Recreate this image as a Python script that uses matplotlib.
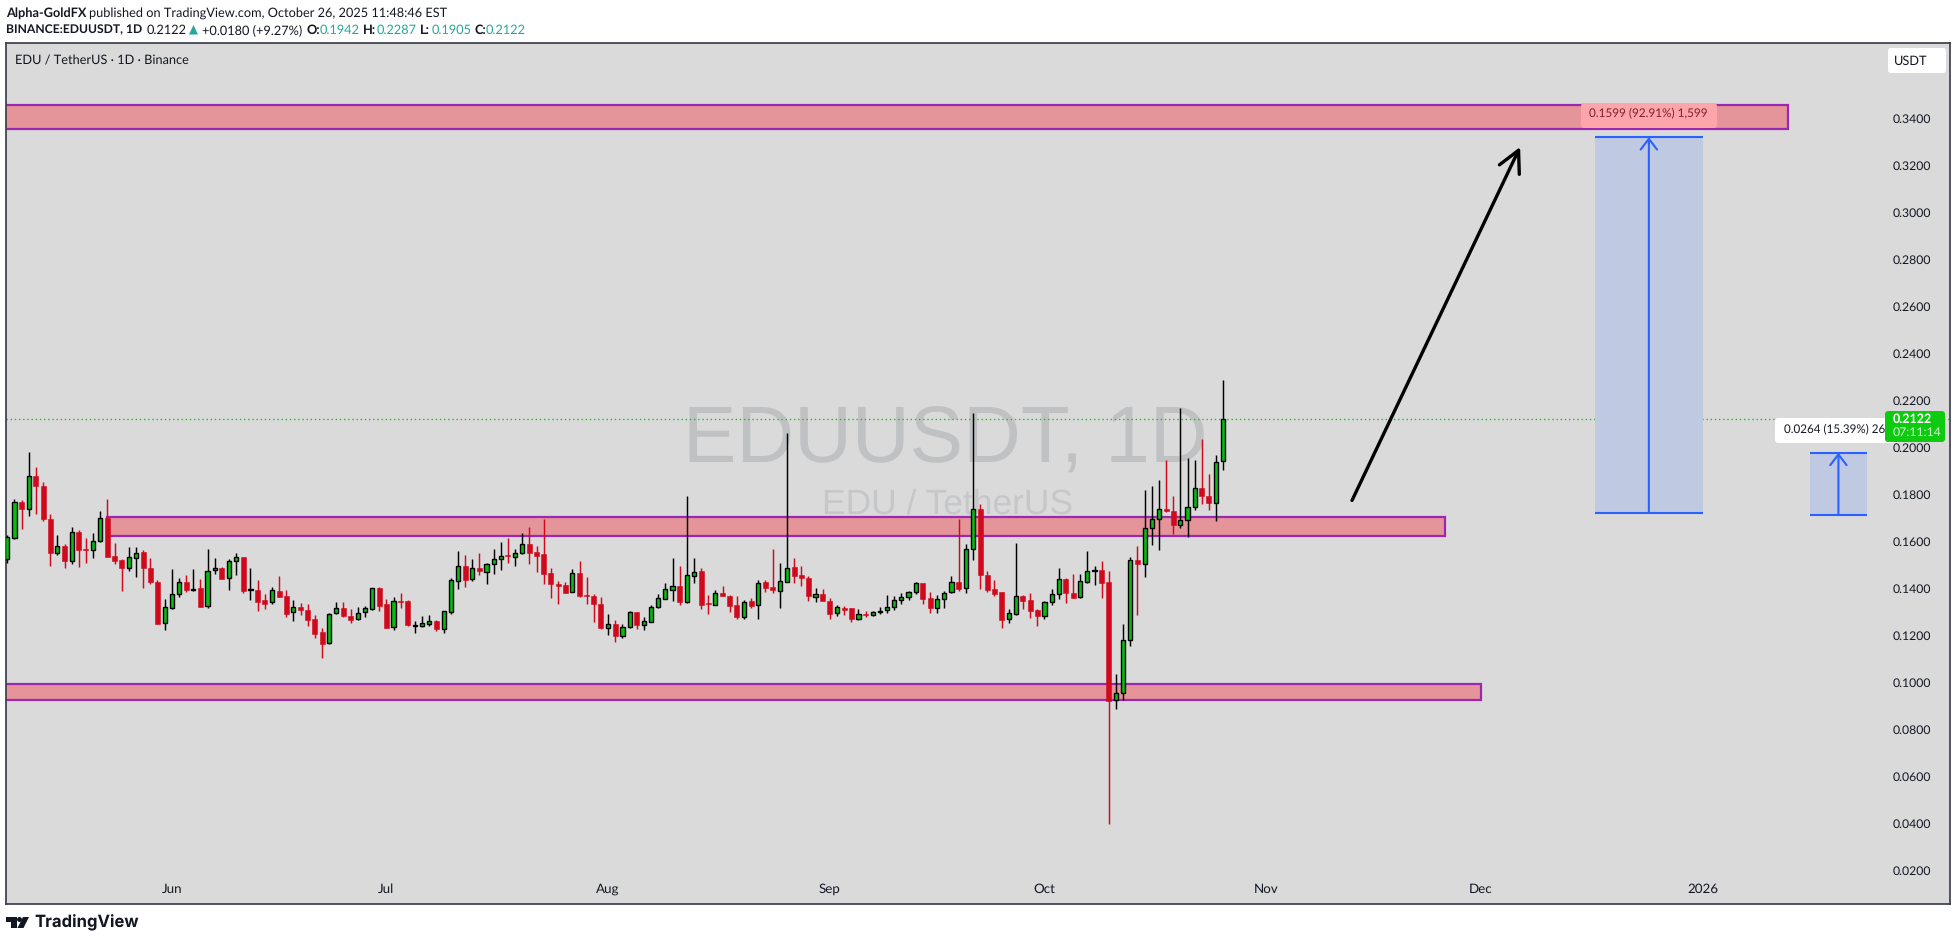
import numpy as np
import pandas as pd
import matplotlib
matplotlib.use("Agg")
import matplotlib.pyplot as plt
import matplotlib.dates as mdates
from matplotlib.patches import Rectangle, FancyBboxPatch, Polygon, Circle
from matplotlib.transforms import IdentityTransform

W, H = 1957, 941
plt.rcParams['font.family'] = ['Lato', 'DejaVu Sans']
plt.rcParams['text.hinting'] = 'no_hinting'

dates = pd.date_range("2025-05-09", periods=171)

opens = [.1523,.1615,.1766,.1736,.1878,.1835,.1695,.1551,.1580,.1515,
         .1639,.1567,.1561,.1600,.1699,.1537,.1520,.1485,.1527,.1554,
         .1486,.1427,.1251,.1317,.1374,.1425,.1393,.1401,.1323,.1476,
         .1486,.1442,.1515,.1533,.1394,.1391,.1349,.1340,.1387,.1366,
         .1298,.1320,.1306,.1268,.1212,.1166,.1293,.1315,.1281,.1268,
         .1300,.1313,.1401,.1332,.1234,.1344,.1344,.1241,.1241,.1249,
         .1261,.1228,.1300,.1432,.1495,.1441,.1485,.1471,.1502,.1523,
         .1542,.1532,.1549,.1587,.1554,.1544,.1464,.1418,.1414,.1386,
         .1464,.1371,.1367,.1333,.1232,.1247,.1198,.1234,.1299,.1245,
         .1258,.1322,.1356,.1394,.1410,.1343,.1454,.1473,.1337,.1330,
         .1380,.1367,.1329,.1279,.1346,.1330,.1427,.1404,.1390,.1428,
         .1491,.1456,.1444,.1364,.1376,.1346,.1293,.1316,.1316,.1268,
         .1291,.1285,.1298,.1306,.1319,.1349,.1361,.1383,.1421,.1358,
         .1317,.1353,.1383,.1425,.1400,.1566,.1736,.1457,.1397,.1384,
         .1268,.1292,.1367,.1350,.1308,.1284,.1340,.1377,.1440,.1379,
         .1365,.1428,.1475,.1478,.1427,.0923,.0953,.1179,.1521,.1505,
         .1655,.1694,.1738,.1729,.1671,.1689,.1745,.1827,.1793,.1765,.1942]
highs = [.1627,.1778,.1776,.1980,.1916,.1852,.1716,.1627,.1588,.1661,
         .1648,.1614,.1635,.1729,.1780,.1593,.1525,.1576,.1576,.1563,
         .1529,.1435,.1354,.1482,.1444,.1456,.1482,.1439,.1567,.1529,
         .1489,.1523,.1550,.1533,.1486,.1435,.1377,.1404,.1452,.1393,
         .1350,.1337,.1333,.1285,.1231,.1295,.1342,.1342,.1310,.1320,
         .1325,.1400,.1404,.1354,.1363,.1380,.1349,.1261,.1282,.1286,
         .1264,.1302,.1444,.1559,.1542,.1525,.1550,.1506,.1567,.1597,
         .1614,.1566,.1635,.1661,.1580,.1695,.1485,.1431,.1425,.1482,
         .1516,.1448,.1376,.1363,.1290,.1264,.1248,.1302,.1300,.1278,
         .1327,.1376,.1421,.1529,.1495,.1793,.1529,.1485,.1370,.1393,
         .1410,.1371,.1367,.1350,.1359,.1434,.1435,.1567,.1506,.2059,
         .1529,.1495,.1452,.1401,.1397,.1357,.1327,.1323,.1317,.1312,
         .1303,.1302,.1320,.1371,.1366,.1380,.1388,.1425,.1422,.1384,
         .1371,.1388,.1452,.1695,.1587,.2146,.1759,.1474,.1435,.1384,
         .1312,.1593,.1372,.1380,.1312,.1346,.1397,.1486,.1444,.1461,
         .1461,.1559,.1495,.1516,.1474,.1035,.1248,.1533,.1580,.1818,
         .1835,.1861,.1946,.1793,.2167,.1955,.1946,.2035,.1886,.1967,.2287]
lows = [.1509,.1611,.1654,.1709,.1717,.1688,.1496,.1543,.1488,.1505,
        .1492,.1508,.1530,.1597,.1534,.1505,.1390,.1475,.1449,.1403,
        .1420,.1249,.1224,.1313,.1364,.1386,.1390,.1322,.1317,.1462,
        .1441,.1394,.1458,.1381,.1351,.1305,.1313,.1335,.1364,.1279,
        .1262,.1288,.1241,.1188,.1105,.1164,.1292,.1279,.1254,.1266,
        .1279,.1308,.1305,.1232,.1224,.1317,.1241,.1211,.1237,.1241,
        .1220,.1211,.1292,.1398,.1407,.1432,.1458,.1420,.1462,.1479,
        .1508,.1496,.1547,.1503,.1469,.1420,.1360,.1335,.1380,.1384,
        .1361,.1335,.1258,.1228,.1203,.1173,.1190,.1232,.1228,.1224,
        .1258,.1316,.1354,.1347,.1330,.1339,.1424,.1313,.1292,.1330,
        .1368,.1300,.1271,.1271,.1317,.1271,.1386,.1381,.1317,.1427,
        .1424,.1411,.1346,.1343,.1346,.1271,.1283,.1288,.1258,.1266,
        .1279,.1283,.1292,.1296,.1309,.1335,.1349,.1377,.1335,.1296,
        .1296,.1317,.1378,.1390,.1381,.1522,.1397,.1386,.1367,.1233,
        .1254,.1286,.1312,.1275,.1241,.1269,.1330,.1355,.1339,.1360,
        .1360,.1423,.1416,.1360,.0399,.0888,.0926,.1156,.1286,.1450,
        .1586,.1564,.1725,.1633,.1658,.1620,.1735,.1760,.1735,.1688,.1905]
closes = [.1617,.1766,.1739,.1876,.1837,.1696,.1551,.1578,.1517,.1638,
          .1564,.1564,.1600,.1698,.1534,.1517,.1488,.1532,.1549,.1488,
          .1428,.1249,.1319,.1374,.1425,.1393,.1395,.1322,.1472,.1485,
          .1441,.1515,.1532,.1390,.1397,.1343,.1335,.1391,.1364,.1292,
          .1319,.1309,.1266,.1207,.1164,.1289,.1315,.1283,.1266,.1293,
          .1315,.1400,.1326,.1232,.1344,.1342,.1245,.1244,.1251,.1259,
          .1228,.1302,.1434,.1493,.1437,.1485,.1475,.1502,.1523,.1536,
          .1539,.1549,.1587,.1551,.1539,.1462,.1420,.1411,.1381,.1464,
          .1369,.1369,.1335,.1232,.1247,.1198,.1234,.1298,.1245,.1259,
          .1319,.1357,.1395,.1408,.1343,.1455,.1468,.1330,.1335,.1381,
          .1368,.1325,.1278,.1340,.1326,.1424,.1403,.1394,.1429,.1485,
          .1454,.1445,.1369,.1374,.1347,.1292,.1319,.1309,.1271,.1289,
          .1288,.1298,.1303,.1319,.1349,.1361,.1383,.1421,.1354,.1317,
          .1353,.1378,.1425,.1398,.1566,.1736,.1458,.1394,.1377,.1267,
          .1294,.1366,.1347,.1305,.1282,.1340,.1374,.1438,.1382,.1360,
          .1430,.1472,.1478,.1423,.0922,.0953,.1179,.1519,.1505,.1655,
          .1694,.1736,.1729,.1671,.1689,.1745,.1825,.1794,.1765,.1936,.2122]

zones_low = [.3354, .1623, .0925]
zones_high = [.3458, .1705, .0993]
zones_start = ["2025-05-01", "2025-05-23", "2025-05-01"]
zones_end = ["2026-01-13", "2025-11-26", "2025-12-01"]

measure_start = ["2025-12-17", "2026-01-16"]
measure_end = ["2026-01-01", "2026-01-24"]
measure_low = [.1721, .1713]
measure_high = [.3320, .1977]

last_price = .2122
y_ticks = [.02, .04, .06, .08, .10, .12, .14, .16, .18, .20, .22, .24, .26, .28, .30, .32, .34]
month_ticks = ["2025-06-01", "2025-07-01", "2025-08-01", "2025-09-01", "2025-10-01", "2025-11-01", "2025-12-01", "2026-01-01"]
month_labels = ["Jun", "Jul", "Aug", "Sep", "Oct", "Nov", "Dec", "2026"]

BG = "#dadada"
RED = "#d0091c"
GREEN = "#0bbb14"
BLUE = "#2962ff"
PURPLE = "#9c27b0"
TEXT = "#131722"
TEAL = "#26a69a"

fig = plt.figure(figsize=(W / 100, H / 100), dpi=100, facecolor="white")
ax = fig.add_axes([6 / W, 1 - 904 / H, 1944 / W, 861 / H], facecolor=BG)

x = mdates.date2num(dates)
opens, highs, lows, closes = map(np.array, (opens, highs, lows, closes))
up = closes >= opens

# watermark
ax.text(x[0] + 131.2, .1934, "EDUUSDT, 1D", color="#c0c1c3", fontsize=57.6, ha="center", va="baseline",
        family="Liberation Sans", zorder=1)
ax.text(x[0] + 131.5, .1716, "EDU / TetherUS", color="#c6c7c9", fontsize=25.5, ha="center", va="baseline",
        family="Liberation Sans", zorder=1)

# zones
for lo, hi, s, e in zip(zones_low, zones_high, zones_start, zones_end):
    s, e = mdates.datestr2num(s), mdates.datestr2num(e)
    ax.add_patch(Rectangle((s, lo), e - s, hi - lo, facecolor="#e59499", edgecolor=PURPLE, lw=1.6, zorder=2))

ax.axhline(last_price, color="#1cc01c", lw=1, ls=(0, (1, 2)), zorder=2.5)

# candles
ax.vlines(x[up], lows[up], highs[up], color="black", lw=1.05, zorder=3)
ax.vlines(x[~up], lows[~up], highs[~up], color=RED, lw=1.05, zorder=3)
ax.bar(x[up], closes[up] - opens[up], bottom=opens[up], width=.58, color=GREEN, edgecolor="black", lw=1.0, zorder=3.2)
ax.bar(x[~up], opens[~up] - closes[~up], bottom=closes[~up], width=.7, color=RED, edgecolor=RED, lw=.4, zorder=3.2)

# measure tools
for s, e, lo, hi in zip(measure_start, measure_end, measure_low, measure_high):
    s, e = mdates.datestr2num(s), mdates.datestr2num(e)
    mid = (s + e) / 2
    ax.add_patch(Rectangle((s, lo), e - s, hi - lo, facecolor="#bfc9e1", edgecolor="none", zorder=3.5))
    ax.hlines([lo, hi], s, e, color=BLUE, lw=1.5, zorder=3.6)
    ax.annotate("", xy=(mid, hi), xytext=(mid, lo), zorder=3.6,
                arrowprops=dict(arrowstyle="->,head_length=0.55,head_width=0.42", color=BLUE, lw=1.5,
                                shrinkA=0, shrinkB=0, mutation_scale=14))

# big arrow
ax.annotate("", xy=(mdates.datestr2num("2025-12-06 12:00"), .3278), xytext=(mdates.datestr2num("2025-11-13"), .1774), zorder=4,
            arrowprops=dict(arrowstyle="->,head_length=0.7,head_width=0.36", color="black", lw=2.4,
                            shrinkA=0, shrinkB=0, mutation_scale=22))

ax.set_xlim(x[0] - .18, x[0] + 271.6)
ax.set_ylim(.00566, .37204)

ax.yaxis.tick_right()
ax.set_yticks(y_ticks, ["%.4f" % v for v in y_ticks])
ax.tick_params(axis="y", direction="in", length=0, pad=-41.5, labelsize=8.8, labelcolor=TEXT)
ax.set_xticks(mdates.datestr2num(month_ticks), month_labels)
ax.tick_params(axis="x", direction="in", length=0, pad=-15, labelsize=9.6, labelcolor=TEXT)
for s in ax.spines.values():
    s.set_color("#363a45")
    s.set_linewidth(1.2)


def label(px, py, txt, **kw):
    kw.setdefault("fontsize", 9.15)
    kw.setdefault("color", TEXT)
    kw.setdefault("va", "center")
    return fig.text(px / W, 1 - py / H, txt, **kw)


def box(x0, y0, x1, y1, color, z=5):
    fig.add_artist(FancyBboxPatch((x0 + 3, H - y1 + 3), x1 - x0 - 6, y1 - y0 - 6, boxstyle="round,pad=3",
                                  transform=IdentityTransform(), facecolor=color, edgecolor="none", zorder=z))


# header lines
label(6, 13, "Alpha-GoldFX", fontweight="bold")
label(89, 13, "published on TradingView.com, October 26, 2025 11:48:46 EST")
label(6, 30, "BINANCE:EDUUSDT, 1D", fontweight="bold", fontsize=8.7)
label(147, 30, "0.2122")
fig.add_artist(Polygon([(189, H - 34.5), (198, H - 34.5), (193.5, H - 25)], transform=IdentityTransform(),
                       facecolor=TEAL, edgecolor="none"))
label(202, 30, "+0.0180 (+9.27%)")
for px, name, vx, val in [(307, "O:", 320, "0.1942"), (363, "H:", 377, "0.2287"),
                          (420, "L:", 432, "0.1905"), (475, "C:", 486, "0.2122")]:
    label(px, 30, name, fontweight="bold")
    label(vx, 30, val, color=TEAL)
label(15, 61, "EDU / TetherUS · 1D · Binance")

# boxes on the chart
box(1888, 48, 1946, 73, "white")
label(1911, 61.5, "USDT", ha="center", zorder=6)
box(1581, 103, 1717, 128, "#fca5aa")
label(1589, 114, "0.1599 (92.91%) 1,599", color="#80202f", fontsize=8.5, zorder=6)
box(1775, 418, 1900, 443, "white")
label(1784, 429.5, "0.0264 (15.39%) 26", fontsize=8.4, zorder=6)
box(1885, 411, 1945, 442, "#0fcb10", z=7)
label(1893, 419, "0.2122", color="white", fontweight="bold", fontsize=9.0, zorder=8)
label(1893, 433, "07:11:14", color="#d2f5d2", fontsize=8.8, zorder=8)

# logo
dark = "#131722"
fig.add_artist(Polygon([(6, H - 917), (17, H - 917), (17, H - 928), (11, H - 928), (11, H - 922), (6, H - 922)],
                       transform=IdentityTransform(), facecolor=dark, edgecolor="none"))
fig.add_artist(Circle((19.5, H - 919.5), 2.5, transform=IdentityTransform(), facecolor=dark, edgecolor="none"))
fig.add_artist(Polygon([(23, H - 917), (29, H - 917), (23.5, H - 928), (17.5, H - 928)],
                       transform=IdentityTransform(), facecolor=dark, edgecolor="none"))
label(34, 922.5, "TradingView", fontsize=12, fontweight="bold", family="Inter")

fig.savefig("out.png", dpi=100)
